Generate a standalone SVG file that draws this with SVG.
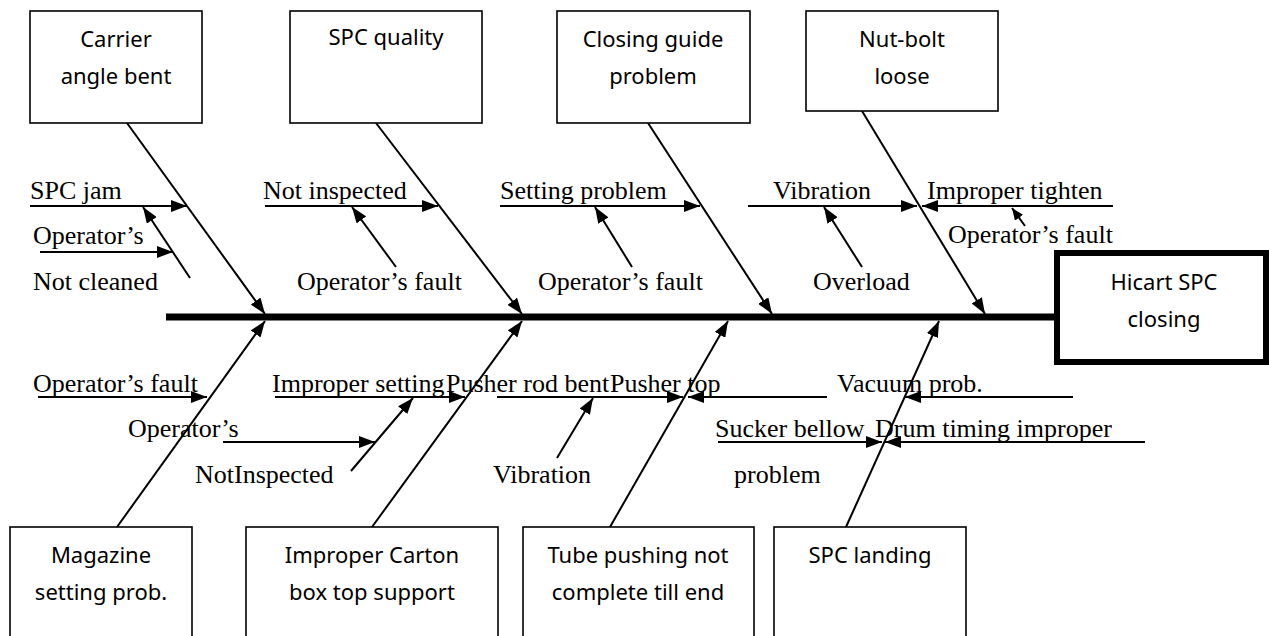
<svg xmlns="http://www.w3.org/2000/svg" width="1269" height="636" viewBox="0 0 1269 636">
<style>
.box{fill:#fff;stroke:#000;stroke-width:1.6}
.bt{font-family:"Noto Sans","Open Sans",sans-serif;font-size:22px;fill:#000;text-anchor:middle}
.lt{font-family:"Liberation Serif","Times New Roman",serif;font-size:26px;fill:#000}
.bone{stroke:#000;stroke-width:2;fill:none;marker-end:url(#ah)}
.sub{stroke:#000;stroke-width:2;fill:none;marker-end:url(#ah)}
.small{stroke:#000;stroke-width:2;fill:none;marker-end:url(#ahs)}
</style>
<defs>
<marker id="ah" markerUnits="userSpaceOnUse" markerWidth="16" markerHeight="12" refX="16" refY="6" orient="auto"><path d="M0,0 L16,6 L0,12 z" fill="#000"/></marker>
<marker id="ahs" markerUnits="userSpaceOnUse" markerWidth="12" markerHeight="10" refX="12" refY="5" orient="auto"><path d="M0,0 L12,5 L0,10 z" fill="#000"/></marker>
</defs>
<rect width="1269" height="636" fill="#fff"/>

<g id="connectors">
<line x1="166" y1="317" x2="1057" y2="317" stroke="#000" stroke-width="7"/>
<line class="bone" x1="127" y1="123" x2="265" y2="314"/>
<line class="bone" x1="376" y1="123" x2="522" y2="314"/>
<line class="bone" x1="648" y1="123" x2="772" y2="314"/>
<line class="bone" x1="862" y1="111" x2="985" y2="314"/>
<line class="bone" x1="117" y1="527" x2="265" y2="321"/>
<line class="bone" x1="372" y1="527" x2="522" y2="321"/>
<line class="bone" x1="610" y1="527" x2="728" y2="321"/>
<line class="bone" x1="846" y1="527" x2="939" y2="321"/>

<line class="sub" x1="30" y1="206" x2="187" y2="206"/>
<line class="sub" x1="40" y1="252" x2="173" y2="252"/>
<line class="sub" x1="190" y1="278" x2="143" y2="207"/>
<line class="sub" x1="265" y1="206" x2="438" y2="206"/>
<line class="sub" x1="396" y1="267" x2="352" y2="207"/>
<line class="sub" x1="500" y1="206" x2="700" y2="206"/>
<line class="sub" x1="632" y1="267" x2="595" y2="207"/>
<line class="sub" x1="748" y1="206" x2="917" y2="206"/>
<line class="sub" x1="862" y1="267" x2="824" y2="207"/>
<line class="sub" x1="1113" y1="206" x2="922" y2="206"/>
<line class="small" x1="1025" y1="226" x2="1012" y2="208"/>

<line class="sub" x1="38" y1="397" x2="207" y2="397"/>
<line class="sub" x1="223" y1="442" x2="375" y2="442"/>
<line class="sub" x1="351" y1="471" x2="413" y2="398"/>
<line class="sub" x1="275" y1="397" x2="465" y2="397"/>
<line class="sub" x1="497" y1="397" x2="683" y2="397"/>
<line class="sub" x1="557" y1="458" x2="593" y2="398"/>
<line class="sub" x1="827" y1="397" x2="688" y2="397"/>
<line class="sub" x1="1073" y1="397" x2="905" y2="397"/>
<line class="sub" x1="718" y1="442" x2="882" y2="442"/>
<line class="sub" x1="1145" y1="442" x2="885" y2="442"/>
</g>

<g id="labels">
<text class="lt" x="30" y="199">SPC jam</text>
<text class="lt" x="33" y="244">Operator’s</text>
<text class="lt" x="33" y="290">Not cleaned</text>
<text class="lt" x="263" y="199">Not inspected</text>
<text class="lt" x="297" y="290">Operator’s fault</text>
<text class="lt" x="500" y="199">Setting problem</text>
<text class="lt" x="538" y="290">Operator’s fault</text>
<text class="lt" x="773" y="199">Vibration</text>
<text class="lt" x="813" y="290">Overload</text>
<text class="lt" x="927" y="199">Improper tighten</text>
<text class="lt" x="948" y="243">Operator’s fault</text>
<text class="lt" x="33" y="392">Operator’s fault</text>
<text class="lt" x="128" y="437">Operator’s</text>
<text class="lt" x="195" y="483">NotInspected</text>
<text class="lt" x="272" y="392">Improper setting</text>
<text class="lt" x="446" y="392">Pusher rod bent</text>
<text class="lt" x="610" y="392">Pusher top</text>
<text class="lt" x="493" y="483">Vibration</text>
<text class="lt" x="837" y="392">Vacuum prob.</text>
<text class="lt" x="715" y="437">Sucker bellow</text>
<text class="lt" x="875" y="437">Drum timing improper</text>
<text class="lt" x="734" y="483">problem</text>
</g>

<g id="n-carrier"><rect class="box" x="30" y="11" width="172" height="112"/><text class="bt" x="116" y="47">Carrier</text><text class="bt" x="116" y="84">angle bent</text></g>
<g id="n-spcquality"><rect class="box" x="290" y="11" width="192" height="112"/><text class="bt" x="386" y="45">SPC quality</text></g>
<g id="n-closing"><rect class="box" x="557" y="11" width="193" height="112"/><text class="bt" x="653" y="47">Closing guide</text><text class="bt" x="653" y="84">problem</text></g>
<g id="n-nutbolt"><rect class="box" x="806" y="11" width="192" height="100"/><text class="bt" x="902" y="47">Nut-bolt</text><text class="bt" x="902" y="84">loose</text></g>
<g id="n-hicart"><rect x="1057" y="253" width="209" height="109" fill="#fff" stroke="#000" stroke-width="6"/><text class="bt" x="1164" y="290">Hicart SPC</text><text class="bt" x="1164" y="327">closing</text></g>
<g id="n-magazine"><rect class="box" x="10" y="527" width="182" height="120"/><text class="bt" x="101" y="563">Magazine</text><text class="bt" x="101" y="600">setting prob.</text></g>
<g id="n-carton"><rect class="box" x="246" y="527" width="252" height="120"/><text class="bt" x="372" y="563">Improper Carton</text><text class="bt" x="372" y="600">box top support</text></g>
<g id="n-tube"><rect class="box" x="523" y="527" width="231" height="120"/><text class="bt" x="638" y="563">Tube pushing not</text><text class="bt" x="638" y="600">complete till end</text></g>
<g id="n-landing"><rect class="box" x="774" y="527" width="192" height="120"/><text class="bt" x="870" y="563">SPC landing</text></g>
</svg>
